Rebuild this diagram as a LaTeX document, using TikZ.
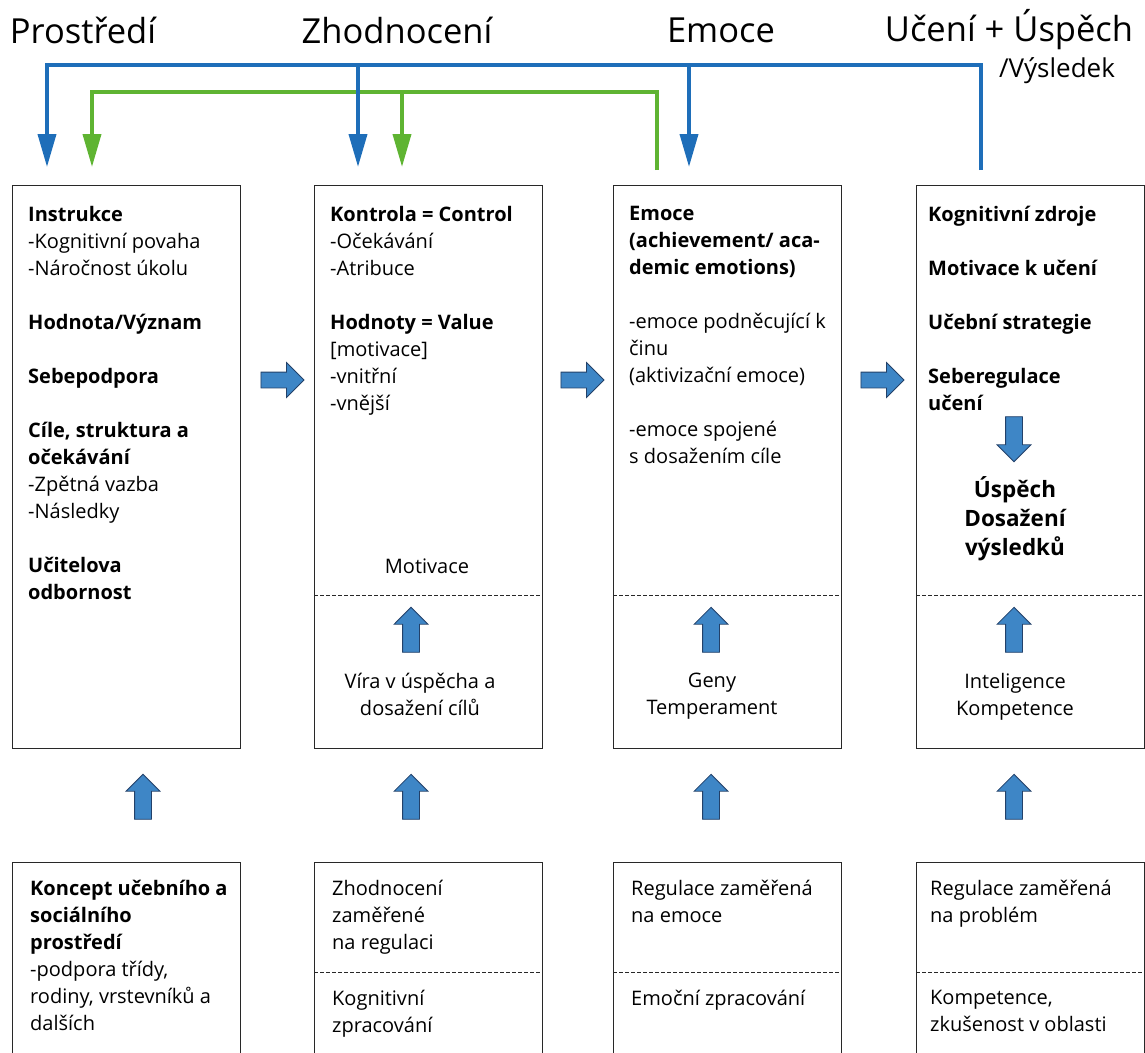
\documentclass[tikz,border=0pt]{standalone}
\usepackage{fontspec}
\setmainfont{Open Sans}
\usepackage{xcolor}
\usepackage{tikz}
\usetikzlibrary{shapes,arrows.meta,positioning,calc}
\definecolor{feedblue}{RGB}{30,110,185}
\definecolor{feedgreen}{RGB}{95,180,50}
\definecolor{blockfill}{RGB}{62,134,198}
\definecolor{blockline}{RGB}{35,65,105}
\definecolor{boxline}{RGB}{40,40,40}
\newcommand{\bodytext}{\fontsize{20}{27}\selectfont}

\begin{document}
\begin{tikzpicture}[x=1pt,y=-1pt,
    panel/.style={draw=boxline,line width=1pt,anchor=north west,minimum width=228pt,minimum height=563pt,inner sep=0pt},
    lowpanel/.style={panel,minimum height=230pt},
    txt/.style={anchor=north west,inner sep=0pt,align=left,font=\bodytext},
    ctxt/.style={anchor=north,inner sep=0pt,align=center,font=\bodytext},
    divider/.style={draw=boxline,line width=0.8pt,dash pattern=on 4pt off 2pt},
    rarrow/.style={single arrow,draw=blockline,fill=blockfill,line width=0.8pt,minimum height=43pt,inner sep=7.5pt,single arrow head extend=9.5pt},
    uarrow/.style={rarrow,shape border rotate=90,minimum height=45pt,inner sep=8pt,single arrow head extend=8.5pt},
    darrow/.style={uarrow,shape border rotate=270},
    feed/.style={line width=3.8pt},
    fbtip/.style={-{Triangle[length=33pt,width=18pt]}},
    title/.style={font=\fontsize{34.5}{38}\selectfont,inner sep=0pt}
]
    \clip (0,0) rectangle (1145,1052);

    % titles
    \node[title] (tprostr) at (83,30) {Prostředí};
    \node[title] (tzhod) at (397,30) {Zhodnocení};
    \node[title] (temoce) at (721,30) {Emoce};
    \node[title] (tuceni) at (1009,30) {Učení + Úspěch};
    \node[font=\fontsize{26}{30}\selectfont,inner sep=0pt] (tvysl) at (1057,71) {/Výsledek};

    % main panels
    \node[panel] (prostr) at (12,185) {};
    \node[panel] (zhod) at (314,185) {};
    \node[panel] (emoce) at (613,185) {};
    \node[panel] (uceni) at (916,185) {};

    % lower panels
    \node[lowpanel] (koncept) at (12,862) {};
    \node[lowpanel] (regzh) at (314,862) {};
    \node[lowpanel] (regem) at (613,862) {};
    \node[lowpanel] (regpr) at (916,862) {};

    \coordinate (dashup) at (0,595);
    \coordinate (dashlow) at (0,972);
    \foreach \p in {zhod,emoce,uceni}
        \draw[divider] (\p.west |- dashup) -- (\p.east |- dashup);
    \foreach \p in {regzh,regem,regpr}
        \draw[divider] (\p.west |- dashlow) -- (\p.east |- dashlow);

    % panel texts
    \node[txt] (instr) at (28,206) {\textbf{Instrukce}\\-Kognitivní povaha\\-Náročnost úkolu\\[27pt]
        \textbf{Hodnota/Význam}\\[27pt]\textbf{Sebepodpora}\\[27pt]
        \textbf{Cíle, struktura a}\\\textbf{očekávání}\\-Zpětná vazba\\-Následky\\[27pt]
        \textbf{Učitelova}\\\textbf{odbornost}};
    \node[txt] (kontr) at (330,206) {\textbf{Kontrola = Control}\\-Očekávání\\-Atribuce\\[27pt]
        \textbf{Hodnoty = Value}\\{[motivace]}\\-vnitřní\\-vnější};
    \node[ctxt] (motiv) at (427,559) {Motivace};
    \node[ctxt] (vira) at (420,673) {Víra v úspěcha a\\dosažení cílů};
    \node[txt] (emtxt) at (629,206) {\textbf{Emoce}\\\textbf{(achievement/ aca-}\\\textbf{demic emotions)}\\[27pt]
        -emoce podněcující k\\činu\\(aktivizační emoce)\\[27pt]
        -emoce spojené\\s dosažením cíle};
    \node[ctxt] (geny) at (712,673) {Geny\\Temperament};
    \node[txt] (zdroje) at (928,206) {\textbf{Kognitivní zdroje}\\[27pt]\textbf{Motivace k učení}\\[27pt]
        \textbf{Učební strategie}\\[27pt]\textbf{Seberegulace}\\\textbf{učení}};
    \node[ctxt,font=\fontsize{22.5}{29}\selectfont\bfseries] (uspech) at (1015,476) {Úspěch\\Dosažení\\výsledků};
    \node[ctxt] (intel) at (1015,673) {Inteligence\\Kompetence};

    \node[txt] (konctxt) at (30,880) {\textbf{Koncept učebního a}\\\textbf{sociálního}\\\textbf{prostředí}\\
        -podpora třídy,\\rodiny, vrstevníků a\\dalších};
    \node[txt] (zhtxt) at (332,880) {Zhodnocení\\zaměřené\\na regulaci};
    \node[txt] (kogtxt) at (332,990) {Kognitivní\\zpracování};
    \node[txt] (emreg) at (631,880) {Regulace zaměřená\\na emoce};
    \node[txt] (emzpr) at (631,990) {Emoční zpracování};
    \node[txt] (prreg) at (930,880) {Regulace zaměřená\\na problém};
    \node[txt] (komp) at (930,990) {Kompetence,\\zkušenost v oblasti};

    % block arrows
    \node[rarrow] (r1) at (278.5,380) {};
    \node[rarrow] (r2) at (578.5,380) {};
    \node[rarrow] (r3) at (878.5,380) {};
    \node[uarrow] (u2) at (411,634) {};
    \node[uarrow] (u3) at (711,634) {};
    \node[uarrow] (u4) at (1014,634) {};
    \node[darrow] (d4) at (1014,435) {};
    \foreach \x in {143,411,711,1014}
        \node[uarrow] at (\x,801) {};

    % feedback lines
    \coordinate (bluetop) at (0,65);
    \coordinate (greentop) at (0,92);
    \coordinate (b1) at (47,167);
    \coordinate (b2) at (358,167);
    \coordinate (b3) at (689,167);
    \coordinate (b4) at (981,170);
    \coordinate (g1) at (92,167);
    \coordinate (g2) at (402,167);
    \coordinate (g3) at (657,170);
    \draw[feed,feedgreen,fbtip] (g3) |- (g1 |- greentop) -- (g1);
    \draw[feed,feedgreen,fbtip] (g2 |- greentop) -- (g2);
    \draw[feed,feedblue,fbtip] (b4) |- (b1 |- bluetop) -- (b1);
    \draw[feed,feedblue,fbtip] (b2 |- bluetop) -- (b2);
    \draw[feed,feedblue,fbtip] (b3 |- bluetop) -- (b3);
\end{tikzpicture}
\end{document}
